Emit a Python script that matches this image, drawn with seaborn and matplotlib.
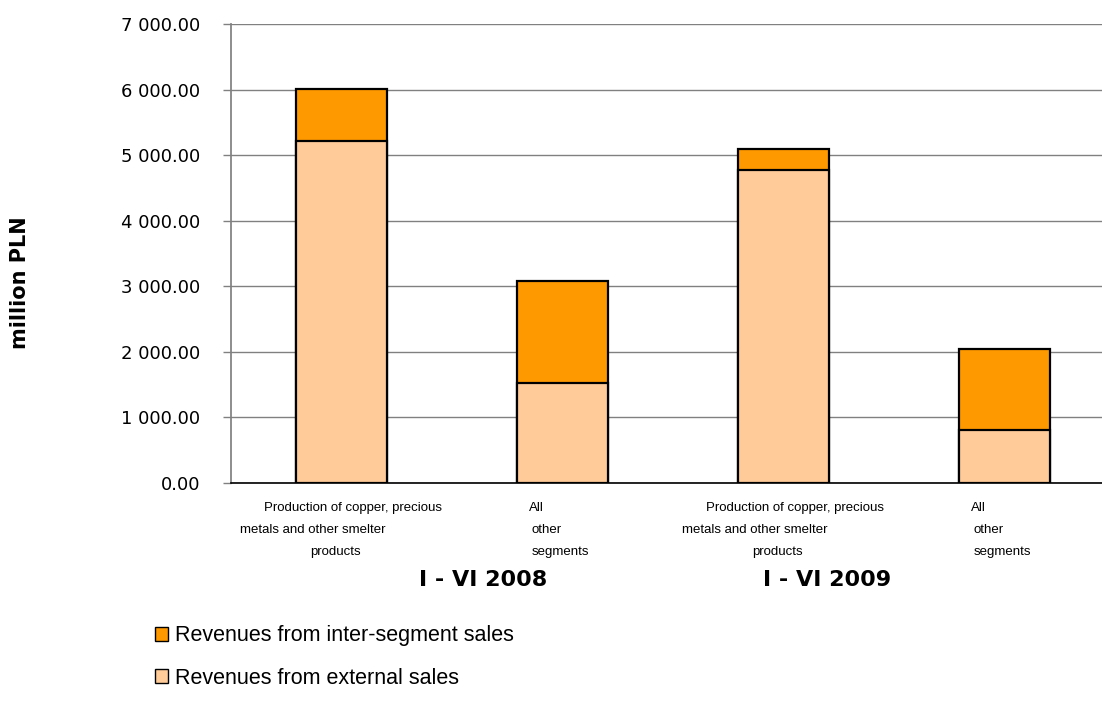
import matplotlib
matplotlib.use("Agg")
import matplotlib.pyplot as plt
import seaborn as sns
import pandas as pd
from matplotlib.patches import Patch
from matplotlib.ticker import FuncFormatter, MultipleLocator

# --- data (million PLN) ---
periods = ["I - VI 2008", "I - VI 2008", "I - VI 2009", "I - VI 2009"]
segments = ["copper", "other", "copper", "other"]
external_sales = [5215, 1525, 4775, 808]
inter_segment_sales = [795, 1555, 320, 1236]
segment_label_lines = {
    "copper": ["Production of copper, precious", "metals and other smelter", "products"],
    "other": ["All", "other", "segments"],
}
period_labels = ["I - VI 2008", "I - VI 2009"]
series_names = ["Revenues from inter-segment sales", "Revenues from external sales"]

EXTERNAL_COLOR = "#FFCC99"
INTER_COLOR = "#FF9900"

W, H = 1102, 707

df = pd.DataFrame({
    "key": [p + " " + s for p, s in zip(periods, segments)],
    "segment": segments,
    "external": external_sales,
    "inter": inter_segment_sales,
})
df["total"] = df["external"] + df["inter"]

sns.set_theme(style="white")
plt.rcParams["font.family"] = ["DejaVu Sans"]
plt.rc("text", color="black")

fig = plt.figure(figsize=(W / 100, H / 100), dpi=100)
ax = fig.add_axes([231 / W, 1 - 483 / H, 1 - 231 / W, (483 - 24) / H])

# stacked bars: total (inter-segment on top) then external in front
sns.barplot(data=df, x="key", y="total", color=INTER_COLOR, saturation=1,
            width=0.41, edgecolor="black", linewidth=1.6, ax=ax)
sns.barplot(data=df, x="key", y="external", color=EXTERNAL_COLOR, saturation=1,
            width=0.41, edgecolor="black", linewidth=1.6, ax=ax)

ax.set_ylim(0, 7000)
ax.set_xlim(-0.5, -0.5 + (W - 231) / 221)
ax.yaxis.set_major_locator(MultipleLocator(1000))
ax.yaxis.set_major_formatter(FuncFormatter(lambda v, _: f"{v:,.2f}".replace(",", " ")))
ax.grid(axis="y", color="#808080", linewidth=1)
ax.set_axisbelow(True)
ax.set_xlabel("")
ax.set_ylabel("")
ax.set_xticks([])
ax.tick_params(axis="y", left=True, length=6, width=1, color="#808080",
               pad=16, labelsize=13, labelcolor="black")
for side in ["top", "right"]:
    ax.spines[side].set_visible(False)
ax.spines["left"].set_color("#808080")
ax.spines["bottom"].set_color("black")
ax.spines["bottom"].set_linewidth(1.2)

# category labels, three lines each (positions in pixels)
line_y = [508, 530, 552]
line_layout = {
    "copper": [(11, "center"), (-29, "center"), (-7, "center")],
    "other": [(-34, "left"), (-32, "left"), (-31, "left")],
}
for i, seg in enumerate(df["segment"]):
    cx = 342 + 221 * i
    for text, (dx, ha), y in zip(segment_label_lines[seg], line_layout[seg], line_y):
        fig.text((cx + dx) / W, 1 - y / H, text, ha=ha, va="center",
                 fontsize=9.5, family="Liberation Sans", color="black")

for label, x in zip(period_labels, [483, 827]):
    fig.text(x / W, 1 - 580 / H, label, ha="center", va="center",
             fontsize=16, fontweight="bold", color="black")

fig.text(20 / W, 1 - 283 / H, "million PLN", rotation=90, ha="center", va="center",
         fontsize=15, fontweight="bold", color="black")

handles = [Patch(facecolor=INTER_COLOR, edgecolor="black", linewidth=1),
           Patch(facecolor=EXTERNAL_COLOR, edgecolor="black", linewidth=1)]
leg = fig.legend(handles, series_names, loc="upper left", bbox_to_anchor=(136 / W, 1 - 606 / H),
                 frameon=False, handlelength=0.6, handleheight=0.6, handletextpad=0.3,
                 labelspacing=1.0, prop={"family": "Liberation Sans", "size": 15.5})
for t in leg.get_texts():
    t.set_color("black")

fig.savefig("out.png", dpi=100)
